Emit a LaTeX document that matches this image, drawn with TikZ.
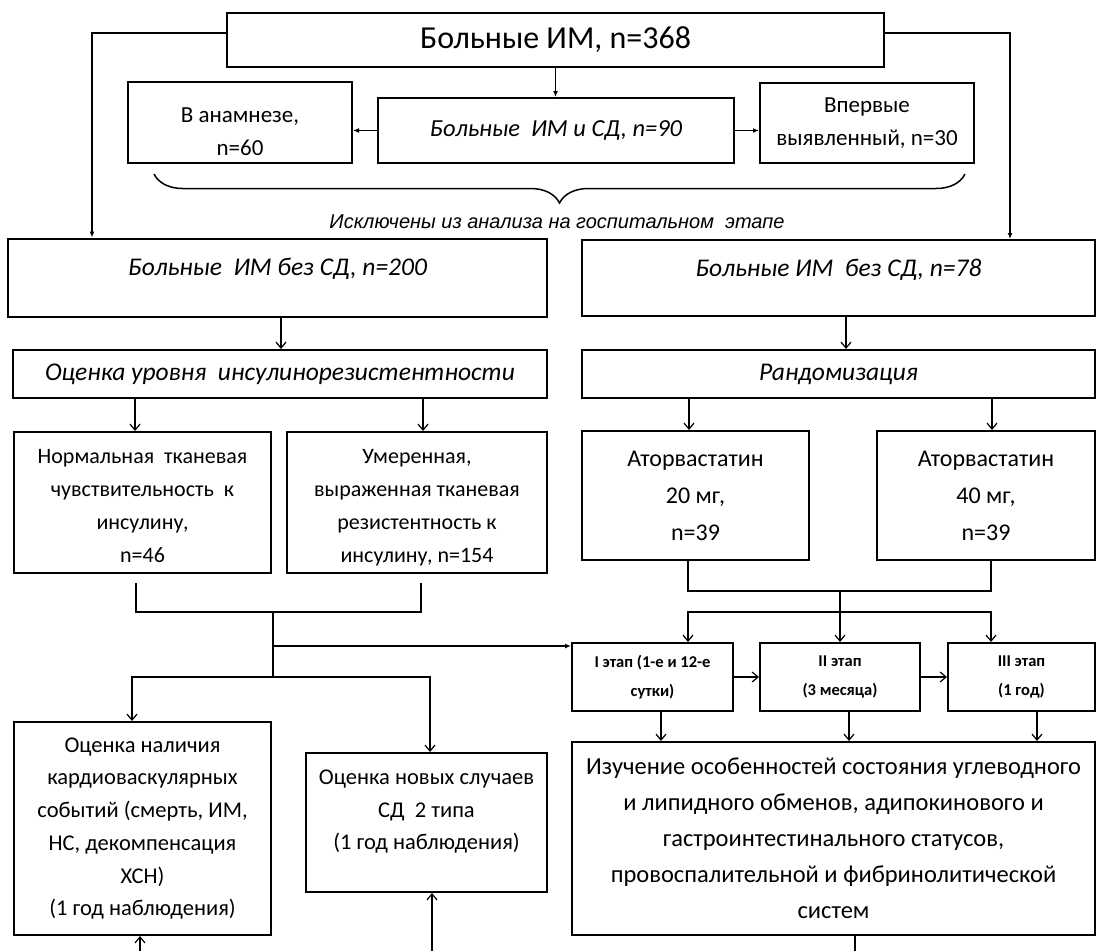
\documentclass[tikz,border=0pt]{standalone}
\usepackage{fontspec}
\setmainfont{Carlito}
\newfontfamily\notefont{Liberation Sans}
\usetikzlibrary{arrows.meta,positioning,calc,decorations.pathreplacing}

\begin{document}
\begin{tikzpicture}[x=1pt, y=-1pt,
    box/.style={rectangle, draw, line width=2pt, align=center, inner sep=0pt},
    fnt/.style 2 args={font=\fontsize{#1}{#2}\selectfont},
    ital/.style 2 args={font=\fontsize{#1}{#2}\selectfont\itshape},
    link/.style={line width=1.3pt},
    flow/.style={link, -{Straight Barb[length=6pt,width=10pt,line width=1.2pt]}},
    feed/.style={link, -{Latex[length=6pt,width=5pt]}},
    brace/.style={line width=1.5pt, decorate, decoration={brace,mirror,amplitude=29pt}},
    note/.style={font=\notefont\fontsize{20}{24}\selectfont\itshape, inner sep=1pt}]

    \useasboundingbox (0,0) rectangle (1097,951);

    \node[box, fnt={32}{38}, minimum width=657pt, minimum height=54pt] (top) at (555.5,40) {Больные ИМ, n=368};
    \node[box, ital={24.5}{30}, minimum width=356pt, minimum height=65pt] (dmall) at (556,130.5) {Больные~ ИМ и СД, n=90};
    \node[box, fnt={23}{33}, minimum width=224pt, minimum height=81pt, text height=66pt, text depth=0pt]
      (hist) at (240,122.5) {В анамнезе,\\ n=60};
    \node[box, fnt={23}{33}, minimum width=214pt, minimum height=80pt]
      (newdm) at (867,123) {Впервые\\ выявленный, n=30};

    \coordinate (bl) at (154,174);
    \coordinate (br) at (965,174);
    \draw[brace] (bl) -- (br);
    \node[note] (excl) at (557,222) {Исключены из анализа на госпитальном~ этапе};

    \node[box, ital={25.5}{30}, minimum width=539pt, minimum height=78pt, text height=18pt, text depth=22pt]
      (noDM) at (277.5,277.5) {Больные~ ИМ без СД, n=200};
    \node[box, ital={25.5}{30}, minimum width=513pt, minimum height=76pt, text height=18pt, text depth=22pt]
      (rand78) at (838.5,278) {Больные ИМ~ без СД, n=78};

    \node[box, ital={25.5}{30}, minimum width=534pt, minimum height=48pt] (irEval) at (280,374) {Оценка уровня~ инсулинорезистентности};
    \node[box, ital={25.5}{30}, minimum width=513pt, minimum height=48pt] (rand) at (838.5,374) {Рандомизация};

    \node[box, fnt={22}{33}, minimum width=257pt, minimum height=141pt, text height=122pt, text depth=2pt]
      (normal) at (142.5,502.5) {Нормальная~ тканевая\\ чувствительность~ к\\ инсулину,\\ n=46};
    \node[box, fnt={22}{33}, minimum width=260pt, minimum height=141pt, text height=122pt, text depth=2pt]
      (moder) at (417,502.5) {Умеренная,\\ выраженная тканевая\\ резистентность к\\ инсулину, n=154};
    \node[box, fnt={24}{37}, minimum width=227pt, minimum height=129pt] (ator20) at (695.5,495.5)
      {Аторвастатин\\ 20 мг,\\ n=39};
    \node[box, fnt={24}{37}, minimum width=218pt, minimum height=129pt] (ator40) at (986,495.5)
      {Аторвастатин\\ 40 мг,\\ n=39};

    \node[box, fnt={16.5}{29}, minimum width=161pt, minimum height=68pt] (stage1) at (652.5,677) {\bfseries I этап (1-е и 12-е\\ \bfseries сутки)};
    \node[box, fnt={16.5}{29}, minimum width=160pt, minimum height=68pt] (stage2) at (840,677) {\bfseries II этап\\ \bfseries (3 месяца)};
    \node[box, fnt={16.5}{29}, minimum width=147pt, minimum height=68pt] (stage3) at (1021.5,677) {\bfseries III этап\\ \bfseries (1 год)};

    \node[box, fnt={24.5}{36}, minimum width=523pt, minimum height=193pt] (study) at (833.5,838.5)
      {Изучение особенностей состояния углеводного\\ и липидного обменов, адипокинового и\\
       гастроинтестинального статусов,\\ провоспалительной и фибринолитической\\ систем};
    \node[box, fnt={22.5}{32.7}, minimum width=257pt, minimum height=213pt] (cv) at (142.5,828.5)
      {Оценка наличия\\ кардиоваскулярных\\ событий (смерть, ИМ,\\ НС, декомпенсация\\ ХСН)\\ (1 год наблюдения)};
    \node[box, fnt={22.5}{32.5}, minimum width=241pt, minimum height=139pt, text depth=25pt]
      (dm2) at (426.5,822.5) {Оценка новых случаев\\ СД~ 2 типа\\ (1 год наблюдения)};

    \draw[feed] (top.south) -- (top.south |- dmall.north);
    \draw[feed] (dmall.west) -- (dmall.west -| hist.east);
    \draw[feed] (dmall.east) -- (dmall.east -| newdm.west);
    \draw[feed] ([yshift=7pt]top.west) -| ([xshift=85pt]noDM.north west);
    \draw[feed] ([yshift=7pt]top.east) -| ([xshift=-86pt]rand78.north east);

    \draw[flow] ([xshift=3.5pt]noDM.south) -- ([xshift=3.5pt]noDM.south |- irEval.north);
    \draw[flow] ([xshift=7.5pt]rand78.south) -- ([xshift=7.5pt]rand78.south |- rand.north);
    \draw[flow] ([xshift=-7.5pt]normal.north |- irEval.south) -- ([xshift=-7.5pt]normal.north);
    \draw[flow] ([xshift=6pt]moder.north |- irEval.south) -- ([xshift=6pt]moder.north);
    \draw[flow] ([xshift=-6.5pt]ator20.north |- rand.south) -- ([xshift=-6.5pt]ator20.north);
    \draw[flow] ([xshift=6pt]ator40.north |- rand.south) -- ([xshift=6pt]ator40.north);

    \coordinate (jl) at (273,612);
    \coordinate (tap) at (273,646);
    \coordinate (fork) at (273,677);
    \draw[link] ([xshift=-6.5pt,yshift=-9pt]normal.south) |- (jl) -| ([xshift=4pt,yshift=-9pt]moder.south);
    \draw[link] (jl) -- (fork);
    \draw[feed] (tap) -- (tap -| stage1.west);
    \draw[flow] (fork) -| ([xshift=-10.5pt]cv.north);
    \draw[flow] (fork) -| ([xshift=3.5pt]dm2.north);

    \coordinate (jr) at (840,591);
    \coordinate (forkr) at (840,612);
    \draw[link] ([xshift=-7.5pt]ator20.south) |- (jr) -| ([xshift=5pt]ator40.south);
    \draw[link] (jr) -- (forkr);
    \draw[flow] (forkr) -| ([xshift=35.5pt]stage1.north);
    \draw[flow] (forkr) -- (forkr |- stage2.north);
    \draw[flow] (forkr) -| ([xshift=-30.5pt]stage3.north);

    \draw[flow] (stage1) -- (stage2);
    \draw[flow] (stage2) -- (stage3);
    \foreach \s/\d in {stage1/8.5, stage2/9, stage3/15.5}
      \draw[flow] ([xshift=\d pt]\s.south) -- ([xshift=\d pt]\s.south |- study.north);

    \coordinate (outS) at (855,951);
    \coordinate (inCV) at (140,951);
    \coordinate (inDM) at (432,951);
    \draw[link] (outS |- study.south) -- (outS);
    \draw[flow] (inCV) -- (inCV |- cv.south);
    \draw[flow] (inDM) -- (inDM |- dm2.south);
\end{tikzpicture}
\end{document}
